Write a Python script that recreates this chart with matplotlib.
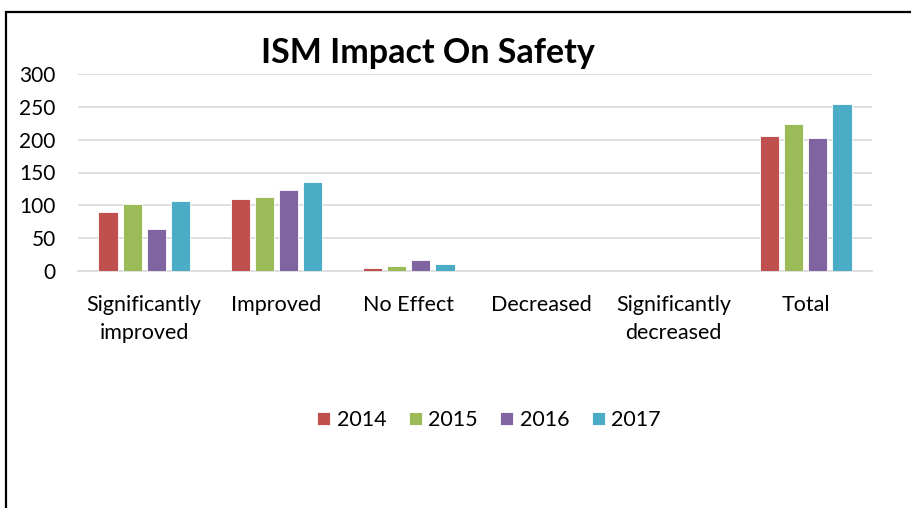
import matplotlib
matplotlib.use("Agg")
import matplotlib.pyplot as plt
from matplotlib.patches import Rectangle
import numpy as np

# data
categories = ["Significantly\nimproved", "Improved", "No Effect", "Decreased",
              "Significantly\ndecreased", "Total"]
years = ["2014", "2015", "2016", "2017"]
v2014 = [90, 109, 5, 0, 0, 205]
v2015 = [102, 113, 8, 0, 0, 224]
v2016 = [64, 123, 16, 0, 0, 203]
v2017 = [107, 136, 10, 0, 0, 254]
series = [v2014, v2015, v2016, v2017]
colors = ["#C0504D", "#9BBB59", "#8064A2", "#4BACC6"]

plt.rcParams["font.family"] = ["Lato", "DejaVu Sans"]

W, H = 911, 508
fig = plt.figure(figsize=(W / 100, H / 100), dpi=100)

# outer chart frame (right and bottom edges fall outside the image)
fig.patches.append(Rectangle((6 / W, -0.2), 2.0, (H - 12) / H + 0.2, fill=False,
                             edgecolor="black", linewidth=1.6,
                             transform=fig.transFigure, figure=fig))

ax = fig.add_axes([78 / W, 1 - 271 / H, 794 / W, 197 / H])

x = np.arange(len(categories))
bw = 0.145
step = 0.182
for i, (vals, col, yr) in enumerate(zip(series, colors, years)):
    off = (i - 1.5) * step
    ax.bar(x + off, vals, width=bw, color=col, edgecolor="white",
           linewidth=0.6, label=yr, zorder=3)

ax.set_xlim(-0.5, len(categories) - 0.5)
ax.set_ylim(0, 300)
ax.set_yticks(range(0, 301, 50))
ax.yaxis.grid(True, color="#D9D9D9", linewidth=1.2, zorder=0)
ax.set_axisbelow(True)
for s in ["top", "right", "left"]:
    ax.spines[s].set_visible(False)
ax.spines["bottom"].set_color("#D9D9D9")
ax.spines["bottom"].set_linewidth(1.2)
ax.tick_params(axis="y", length=0, pad=16, labelsize=15)
ax.tick_params(axis="x", length=0, pad=17, labelsize=15.5)
ax.set_xticks(x)
ax.set_xticklabels(categories, linespacing=1.55)

fig.text(428 / W, 1 - 53 / H, "ISM Impact On Safety", ha="center", va="center",
         fontsize=24.5, fontweight="bold")

fig.legend(loc="center", bbox_to_anchor=(489 / W, 1 - 420 / H), ncol=4,
           frameon=False, fontsize=15.5, handlelength=0.6, handleheight=0.6,
           handletextpad=0.3, columnspacing=1.05)

fig.savefig("out.png", dpi=100)
